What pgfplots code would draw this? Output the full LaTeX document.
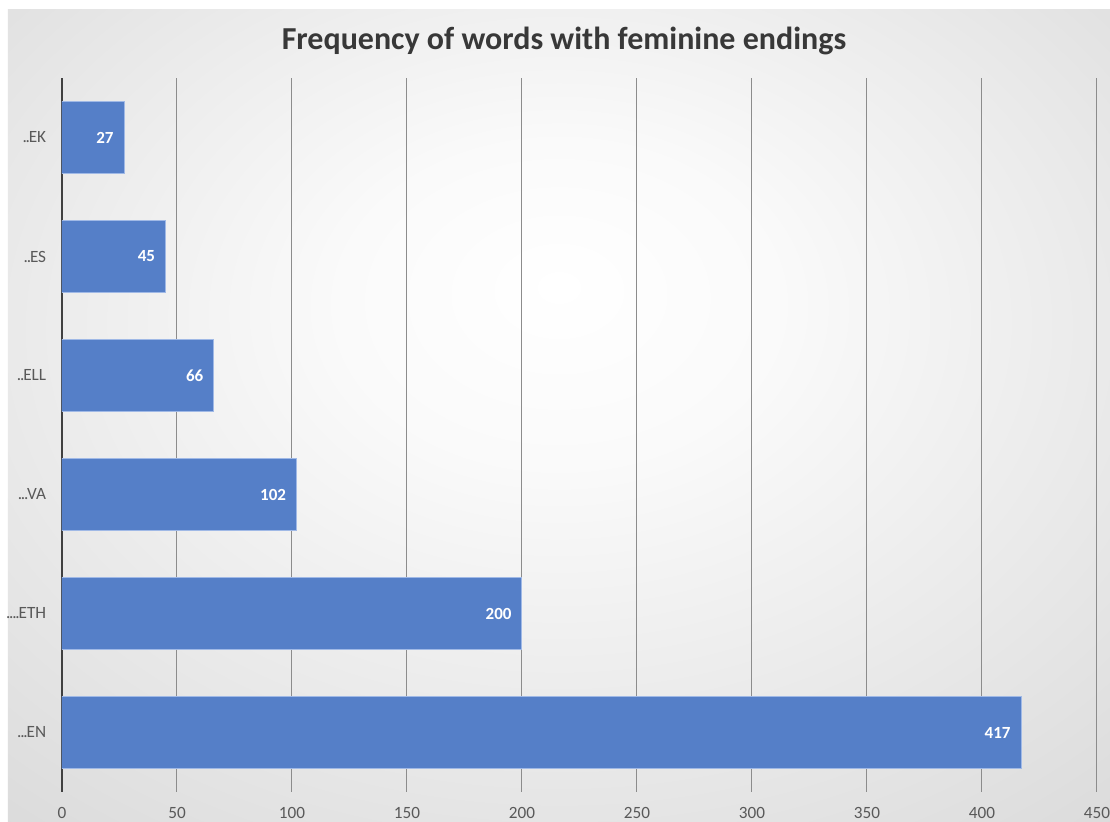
\documentclass[border=0pt]{standalone}
\usepackage{pgfplots}
\pgfplotsset{compat=1.18}
\usepackage{fontspec}
\setmainfont{Carlito}
\definecolor{barblue}{RGB}{85,127,200}
\definecolor{baredge}{RGB}{160,185,230}
\definecolor{ticktext}{RGB}{89,89,89}
\definecolor{gridgray}{RGB}{140,140,140}
\newcommand\dt{.\kern-0.07em}
\pgfdeclareradialshading{bgshade}{\pgfpoint{0bp}{8bp}}{color(0bp)=(white); color(10bp)=(white!98!black); color(50bp)=(white!81!black); color(72bp)=(white!75!black)}
\begin{document}
\begin{tikzpicture}
\useasboundingbox (-31pt,-14.5pt) rectangle (524pt,396pt);
\fill[white] (-31pt,-14.5pt) rectangle (524pt,396pt);
\shade[shading=bgshade] (-27pt,-14.5pt) rectangle (524pt,391pt);
\begin{axis}[
  xbar,
  scale only axis,
  width=517.5pt, height=357pt,
  xmin=0, xmax=450, ymin=-0.5, ymax=5.5,
  y dir=reverse,
  xtick={0,50,...,450}, ytick={0,1,2,3,4,5},
  yticklabels={{\dt\dt EK},{\dt\dt ES},{\dt\dt ELL},{\dt\dt\dt VA},{\dt\dt\dt\dt ETH},{\dt\dt\dt EN}},
  bar width=0.6,
  axis lines*=left,
  x axis line style={draw=none},
  y axis line style={draw=black!75, line width=1pt, -},
  major tick length=0pt,
  xmajorgrids,
  major grid style={gridgray, line width=0.5pt},
  tick label style={font=\fontsize{8.6}{10}\selectfont, text=ticktext},
  /pgf/number format/assume math mode=true,
  xticklabel style={yshift=-4.2pt},
  yticklabel style={xshift=-4.4pt},
  nodes near coords,
  nodes near coords style={anchor=east, inner sep=0pt, xshift=-5pt, text=white, font=\bfseries\fontsize{8.5}{10}\selectfont},
]
\addplot[fill=barblue, draw=baredge, line width=0.5pt] coordinates {(27,0) (45,1) (66,2) (102,3) (200,4) (417,5)};
\end{axis}
\node[anchor=base, font=\bfseries\fontsize{16}{18}\selectfont, text=black!78] at (251pt,371pt) {Frequency of words with feminine endings};
\end{tikzpicture}
\end{document}
